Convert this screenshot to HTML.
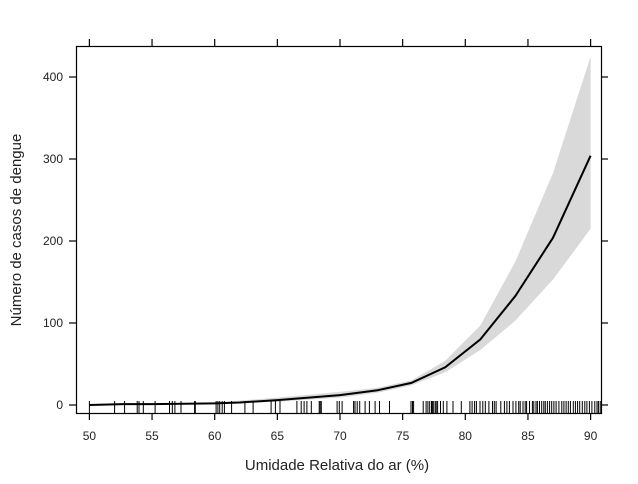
<!DOCTYPE html><html><head><style>body{margin:0;background:#fff}svg{display:block}text{font-family:"Liberation Sans",sans-serif;fill:#222}</style></head><body>
<svg id="s" width="638" height="484" viewBox="0 0 638 484">
<polygon id="band" fill="#d9d9d9" stroke="none"/>
<polyline id="fit" fill="none" stroke="#000" stroke-width="2"/>
<g id="rug" stroke="#000" stroke-width="1"></g>
<rect x="76.5" y="46.5" width="525" height="367" fill="none" stroke="#000" stroke-width="1.2"/>
<g id="ax" stroke="#000" stroke-width="1.2"></g>
<g id="lab" font-size="12"></g>
<text x="337" y="470" font-size="15" text-anchor="middle">Umidade Relativa do ar (%)</text>
<text transform="translate(21,230) rotate(-90)" font-size="15" text-anchor="middle">Número de casos de dengue</text>
</svg>
<script>
var X=v=>89.4+(v-50)*12.53,Y=v=>405-v*0.82,NS="http://www.w3.org/2000/svg";
var pts=[[50,0],[52.7,1],[55,1],[60,2],[62,3],[65,6],[67.5,9],[70,12],[73,18],[75.7,27],[78.4,46],[81.2,80],[84,133],[87,204],[90,304]];
var up=[[50,0.5],[55,1.5],[60,3],[65,9],[70,16],[73,21],[75.7,30],[78.4,54],[81.2,97],[84,175],[87,283],[90,425]];
var lo=[[50,0],[55,0.5],[60,1],[65,4],[70,9],[73,15],[75.7,24],[78.4,40],[81.2,67],[84,103],[87,153],[90,215]];
document.getElementById('fit').setAttribute('points',pts.map(p=>X(p[0])+','+Y(p[1])).join(' '));
document.getElementById('band').setAttribute('points',up.concat(lo.slice().reverse()).map(p=>X(p[0])+','+Y(p[1])).join(' '));
var z=[82,152,180,215,220,232,265,305,313,320,337,375,377,435,440,445,452,458,478,515,538,588,600,613,660,672,680,688,700,722,725,728,772,778,786,818,822,828,835,850,862,878,890,918,978,982,985,1012,1020,1025,1030,1035,1038,1040,1045,1048,1052,1060,1068,1078,1095,1118,1142,1148,1155,1160,1170,1178,1185,1195,1205,1210,1215,1228,1238,1245,1252,1262,1270,1278,1282,1290,1296,1300,1308,1316,1320,1326,1330,1336,1342,1348,1352,1358,1364,1370,1376,1382,1390,1398,1404,1410,1416,1422,1430,1436,1442,1448,1455,1462,1468,1475,1482,1490,1496,1500,1505];
var r='';z.forEach(v=>{var x=(60+v/2.786).toFixed(1);r+='<line x1="'+x+'" x2="'+x+'" y1="401" y2="413"/>';});
document.getElementById('rug').innerHTML=r;
var a='',l='';
for(var v=50;v<=90;v+=5){var x=X(v);a+='<line x1="'+x+'" x2="'+x+'" y1="413" y2="420"/><line x1="'+x+'" x2="'+x+'" y1="46" y2="39"/>';l+='<text x="'+x+'" y="440" text-anchor="middle">'+v+'</text>';}
for(var v=0;v<=400;v+=100){var y=Y(v);a+='<line x1="69" x2="76" y1="'+y+'" y2="'+y+'"/><line x1="601" x2="608" y1="'+y+'" y2="'+y+'"/>';l+='<text x="63" y="'+(y+4)+'" text-anchor="end">'+v+'</text>';}
document.getElementById('ax').innerHTML=a;document.getElementById('lab').innerHTML=l;
</script></body></html>
